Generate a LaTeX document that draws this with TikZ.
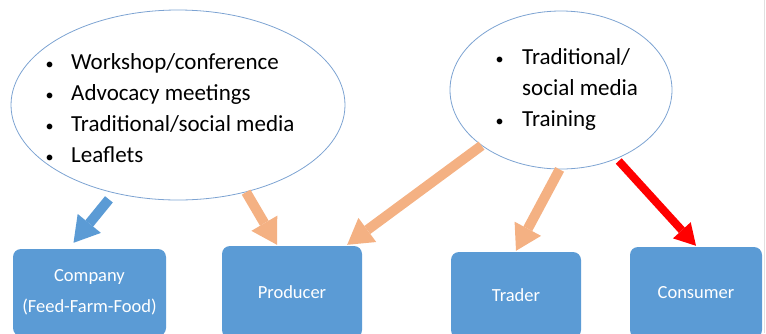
\documentclass[tikz,border=0pt]{standalone}
\usepackage{fontspec}
\setmainfont{Carlito}
\usetikzlibrary{arrows.meta,shapes.geometric,calc}
\definecolor{boxblue}{RGB}{91,155,213}
\definecolor{peach}{RGB}{244,177,131}
\definecolor{rim}{RGB}{125,163,210}
\newcommand{\arw}{-{Triangle[length=25pt,width=30pt,line width=0pt]}}
\newcommand{\arwr}{-{Triangle[length=21pt,width=24pt,line width=0pt]}}
\newcommand{\dotmark}{\makebox[11pt]{\scalebox{.7}{\textbullet}}}
\tikzset{
  bubble/.style={ellipse,draw=rim,line width=.8pt,inner sep=0pt},
  bullets/.style={font=\fontsize{23}{31}\selectfont,inner sep=0pt,anchor=west},
  actor/.style={rectangle,rounded corners=8pt,fill=boxblue,text=white,
    font=\fontsize{18.5}{31}\selectfont,align=center,inner sep=0pt},
}

\begin{document}
\begin{tikzpicture}[x=1pt,y=-1pt]
\clip (0,0) rectangle (766,333);
\draw[black!12,line width=1pt] (764,0) -- (764,333);
%channels
\node[bubble,minimum width=334pt,minimum height=190pt] (events) at (178,105) {};
\node[bubble,minimum width=222pt,minimum height=158pt] (media) at (561,90) {};
\node[bullets] (eventlist) at (44,110) {\begin{tabular}{@{}l@{\hspace{16pt}}l@{}}
  \dotmark & Workshop/conference\\
  \dotmark & Advocacy meetings\\
  \dotmark & Traditional/social media\\
  \dotmark & Leaflets
\end{tabular}};
\node[bullets] (medialist) at (494,89) {\begin{tabular}{@{}l@{\hspace{17pt}}l@{}}
  \dotmark & Traditional/\\
           & social media\\
  \dotmark & Training
\end{tabular}};
%actors
\node[actor,minimum width=153pt,minimum height=87pt] (company) at (89.5,292.5) {Company\\(Feed-Farm-Food)};
\node[actor,minimum width=140pt,minimum height=92pt] (producer) at (292,292) {Producer};
\node[actor,minimum width=130pt,minimum height=86pt] (trader) at (516,295) {Trader};
\node[actor,minimum width=132pt,minimum height=91pt] (consumer) at (696,292.5) {Consumer};
%arrows
\draw[boxblue,line width=10pt,\arw,shorten <=8pt] (events.234) -- ($(company.north)+(-16,-6)$);
\draw[peach,line width=10pt,\arw] (events.308) -- ($(producer.north)+(-15,-1)$);
\draw[peach,line width=10pt,\arw] (media.215) -- ($(producer.north east)+(-15,-1)$);
\draw[peach,line width=10pt,\arw] (media.269) -- ($(trader.north)+(0,-1)$);
\draw[red,line width=8pt,\arwr,shorten <=3pt] (media.309) -- ($(consumer.north)+(0,-1)$);
\end{tikzpicture}
\end{document}
